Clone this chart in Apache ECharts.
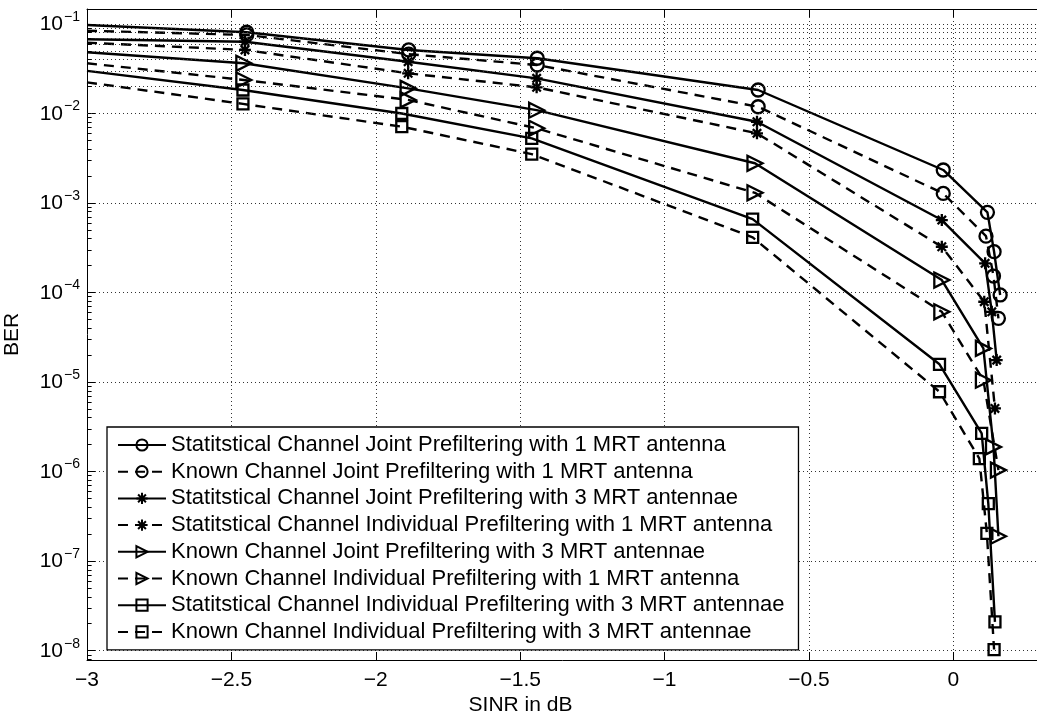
<!DOCTYPE html>
<html><head><meta charset="utf-8">
<script src="https://cdn.jsdelivr.net/npm/echarts@6/dist/echarts.min.js"></script>
<style>html,body{margin:0;padding:0;background:#fff}#c{width:1037px;height:715px}</style>
</head><body><div id="c"></div>
<script>
// ---- data ----
const seriesNames = [
  'Statitstical Channel Joint Prefiltering with 1 MRT antenna',
  'Known Channel Joint Prefiltering with 1 MRT antenna',
  'Statitstical Channel Joint Prefiltering with 3 MRT antennae',
  'Statitstical Channel Individual Prefiltering with 1 MRT antenna',
  'Known Channel Joint Prefiltering with 3 MRT antennae',
  'Known Channel Individual Prefiltering with 1 MRT antenna',
  'Statitstical Channel Individual Prefiltering with 3 MRT antennae',
  'Known Channel Individual Prefiltering with 3 MRT antennae'
];
const sjx1 = [-3, -2.447, -1.886, -1.441, -0.676, -0.035, 0.118, 0.141, 0.162];
const sjy1 = [0.0975, 0.0808, 0.0513, 0.0414, 0.0183, 0.00234, 7.87e-4, 2.86e-4, 9.4e-5];
const kjx1 = [-3, -2.447, -1.886, -1.441, -0.676, -0.035, 0.113, 0.139, 0.156];
const kjy1 = [0.0841, 0.0754, 0.046, 0.0348, 0.0119, 0.00128, 4.27e-4, 1.53e-4, 5.15e-5];
const sjx3 = [-3, -2.453, -1.888, -1.443, -0.68, -0.04, 0.110, 0.133, 0.150];
const sjy3 = [0.0674, 0.0634, 0.0379, 0.0247, 0.00809, 6.46e-4, 2.12e-4, 6.1e-5, 1.76e-5];
const six1 = [-3, -2.453, -1.888, -1.443, -0.68, -0.04, 0.107, 0.144];
const siy1 = [0.0618, 0.0513, 0.0281, 0.0196, 0.00601, 3.25e-4, 7.9e-5, 5.08e-6];
const kjx3 = [-3, -2.457, -1.888, -1.443, -0.687, -0.04, 0.104, 0.139, 0.156];
const kjy3 = [0.0483, 0.0364, 0.0191, 0.0109, 0.00278, 1.38e-4, 2.38e-5, 1.89e-6, 1.9e-7];
const kix1 = [-3, -2.457, -1.888, -1.443, -0.687, -0.04, 0.104, 0.156];
const kiy1 = [0.0364, 0.0237, 0.0142, 0.00684, 0.0013, 6.1e-5, 1.05e-5, 1.04e-6];
const six3 = [-3, -2.46, -1.91, -1.46, -0.695, -0.048, 0.098, 0.121, 0.144];
const siy3 = [0.0299, 0.0183, 0.01, 0.00528, 6.62e-4, 1.58e-5, 2.67e-6, 4.4e-7, 2.1e-8];
const kix3 = [-3, -2.46, -1.91, -1.46, -0.695, -0.048, 0.09, 0.116, 0.141];
const kiy3 = [0.0223, 0.0128, 0.00713, 0.00352, 4.14e-4, 7.8e-6, 1.4e-6, 2.04e-7, 1.03e-8];
const xTicks = [-3, -2.5, -2, -1.5, -1, -0.5, 0];
const yDecades = [-8, -7, -6, -5, -4, -3, -2, -1];

// ---- styles ----
const FONT = '"Liberation Sans", Arial, Helvetica, sans-serif';
const SYM = {
  circle: 'circle',
  star: 'path://M5,0L5,10M0,5L10,5M1.5,1.5L8.5,8.5M8.5,1.5L1.5,8.5',
  tri: 'path://M0,0L10,5L0,10Z',
  square: 'rect'
};
const styleList = [
  {sym: 'circle', size: 13, dash: 'solid'},
  {sym: 'circle', size: 13, dash: 'dashed'},
  {sym: 'star', size: 12, dash: 'solid'},
  {sym: 'star', size: 12, dash: 'dashed'},
  {sym: 'tri', size: 15, dash: 'solid'},
  {sym: 'tri', size: 15, dash: 'dashed'},
  {sym: 'square', size: 11, dash: 'solid'},
  {sym: 'square', size: 11, dash: 'dashed'}
];
const xs = [sjx1, kjx1, sjx3, six1, kjx3, kix1, six3, kix3];
const ys = [sjy1, kjy1, sjy3, siy1, kjy3, kiy1, siy3, kiy3];

const YMIN = 7.87e-9, YMAX = 0.147, XMIN = -3, XMAX = 0.3;

const series = seriesNames.map((name, i) => {
  const st = styleList[i];
  return {
    name, type: 'line',
    data: xs[i].map((x, k) => k === 0 ? {value: [x, ys[i][k]], symbol: 'none'} : [x, ys[i][k]]),
    symbol: SYM[st.sym], symbolSize: st.size, showAllSymbol: true,
    lineStyle: {color: '#000', width: 2.4, type: st.dash === 'dashed' ? [10, 7] : 'solid'},
    itemStyle: {color: st.sym === 'star' ? '#000' : 'rgba(0,0,0,0)', borderColor: '#000', borderWidth: 2.3},
    emphasis: {disabled: true}, z: 3, clip: true
  };
});

// minor grid lines and minor ticks (2..9 x 10^n)
const minorVals = [];
for (let e = -9; e <= -1; e++) for (let m = 2; m <= 9; m++) {
  const v = m * Math.pow(10, e);
  if (v > YMIN && v < YMAX) minorVals.push(v);
}
const gridDot = {type: [1, 3], color: '#333', width: 1};
series.push({
  type: 'line', data: [], silent: true, z: 1,
  markLine: {
    silent: true, symbol: ['none', 'none'], label: {show: false}, animation: false,
    lineStyle: gridDot,
    data: minorVals.map(v => ({yAxis: v}))
  }
});
series.push({
  type: 'line', data: [], silent: true, z: 4,
  markLine: {
    silent: true, symbol: ['none', 'none'], label: {show: false}, animation: false,
    lineStyle: {type: 'solid', color: '#000', width: 1},
    data: minorVals.map(v => [{coord: [XMIN, v]}, {coord: [XMIN + 0.016, v]}])
  }
});

const isDecade = v => Math.abs(Math.log10(v) - Math.round(Math.log10(v))) < 1e-6;
const xFmt = v => {
  if (!xTicks.some(t => Math.abs(t - v) < 1e-9)) return '';
  return v < 0 ? '\u2212' + Math.abs(v) : String(v);
};

const chart = echarts.init(document.getElementById('c'), null, {renderer: 'canvas'});
chart.setOption({
  animation: false,
  backgroundColor: '#fff',
  textStyle: {fontFamily: FONT},
  grid: {left: 87, top: 9, width: 953, height: 651, containLabel: false, outerBoundsMode: 'none'},
  xAxis: [{
    type: 'value', min: XMIN, max: XMAX, interval: 0.5, position: 'bottom',
    axisLine: {show: true, onZero: false, lineStyle: {color: '#000', width: 1}},
    axisTick: {show: true, inside: true, length: 8, lineStyle: {color: '#000'}},
    axisLabel: {formatter: xFmt, fontSize: 21, color: '#000', margin: 10, fontFamily: FONT, showMaxLabel: false},
    splitLine: {show: true, lineStyle: gridDot},
    name: 'SINR in dB', nameLocation: 'middle', nameGap: 35, nameMoveOverlap: false,
    nameTextStyle: {fontSize: 21, color: '#000', fontFamily: FONT, padding: [0, 86, 0, 0]}
  }, {
    type: 'value', min: XMIN, max: XMAX, interval: 0.5, position: 'top',
    axisLine: {show: true, onZero: false, lineStyle: {color: '#000', width: 1}},
    axisTick: {show: true, inside: true, length: 8, lineStyle: {color: '#000'}},
    axisLabel: {show: false}, splitLine: {show: false}
  }],
  yAxis: [{
    type: 'log', logBase: 10, min: YMIN, max: YMAX, splitNumber: 8,
    axisLine: {show: true, onZero: false, lineStyle: {color: '#000', width: 1}},
    axisTick: {show: true, inside: true, length: 8, lineStyle: {color: '#000'}},
    axisLabel: {
      margin: 7, color: '#000', fontFamily: FONT,
      formatter: v => isDecade(v) ? '{b|10}{s|\u2212' + Math.abs(Math.round(Math.log10(v))) + '}' : '',
      rich: {
        b: {fontSize: 21, fontFamily: FONT, color: '#000', verticalAlign: 'bottom', lineHeight: 22},
        s: {fontSize: 14, fontFamily: FONT, color: '#000', verticalAlign: 'bottom', padding: [0, 0, 11, 1], lineHeight: 15}
      }
    },
    splitLine: {show: true, lineStyle: gridDot},
    name: 'BER', nameLocation: 'middle', nameGap: 64, nameMoveOverlap: false,
    nameTextStyle: {fontSize: 21, color: '#000', fontFamily: FONT}
  }],
  legend: {
    orient: 'vertical', left: 107, top: 427,
    data: seriesNames,
    itemWidth: 48, itemHeight: 14, itemGap: 2.7,
    padding: [6, 14, 6, 10],
    backgroundColor: '#fff', borderColor: '#000', borderWidth: 1.3,
    textStyle: {fontSize: 22, lineHeight: 24, color: '#000', fontFamily: FONT},
    selectedMode: false
  },
  series
});
</script></body></html>
